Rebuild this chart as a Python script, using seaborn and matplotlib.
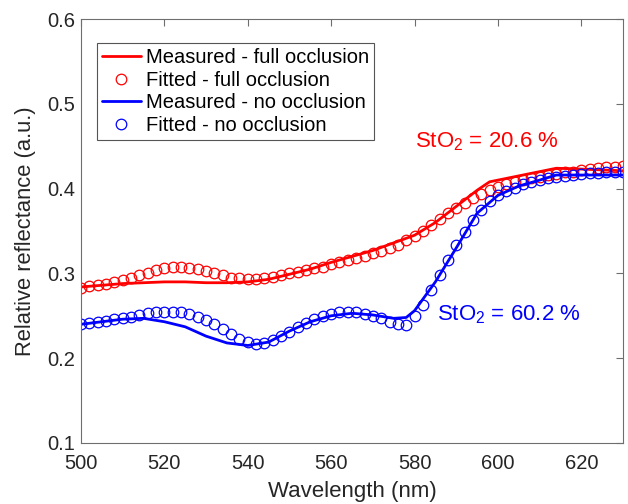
import numpy as np
import pandas as pd
import matplotlib
matplotlib.use("Agg")
import matplotlib.pyplot as plt
import seaborn as sns

# ---- data ----
wl_meas_full = [500, 505, 510, 515, 520, 525, 530, 535, 540, 545, 550, 555, 560, 565,
                570, 575, 580, 585, 590, 595, 598, 605, 610, 614, 620, 625, 630]
meas_full = [0.284, 0.286, 0.288, 0.289, 0.290, 0.290, 0.289, 0.289, 0.290, 0.293, 0.299,
             0.305, 0.313, 0.320, 0.327, 0.336, 0.345, 0.360, 0.379, 0.398, 0.408, 0.415,
             0.420, 0.424, 0.423, 0.422, 0.421]

wl_meas_none = [500, 505, 510, 515, 520, 525, 530, 535, 540, 545, 550, 555, 560, 565,
                570, 575, 578, 580, 585, 590, 595, 600, 605, 610, 614, 620, 625, 630]
meas_none = [0.240, 0.243, 0.246, 0.247, 0.243, 0.237, 0.226, 0.218, 0.215, 0.219, 0.232,
             0.243, 0.250, 0.253, 0.251, 0.247, 0.248, 0.256, 0.290, 0.330, 0.371, 0.392,
             0.403, 0.410, 0.416, 0.416, 0.416, 0.416]

wl_fit = list(range(500, 631, 2))
fit_full = [0.283, 0.285, 0.286, 0.288, 0.290, 0.292, 0.295, 0.298, 0.301, 0.304,
            0.306, 0.307, 0.307, 0.306, 0.305, 0.303, 0.300, 0.298, 0.295, 0.294,
            0.293, 0.293, 0.294, 0.296, 0.298, 0.300, 0.302, 0.304, 0.306, 0.308,
            0.311, 0.313, 0.316, 0.318, 0.321, 0.324, 0.327, 0.330, 0.334, 0.339,
            0.344, 0.350, 0.357, 0.364, 0.371, 0.377, 0.383, 0.389, 0.394, 0.398,
            0.402, 0.405, 0.408, 0.410, 0.412, 0.414, 0.416, 0.417, 0.419, 0.420,
            0.422, 0.423, 0.424, 0.425, 0.426, 0.427]
fit_none = [0.240, 0.242, 0.243, 0.244, 0.246, 0.247, 0.249, 0.251, 0.253, 0.254,
            0.255, 0.255, 0.254, 0.252, 0.249, 0.245, 0.240, 0.234, 0.228, 0.223,
            0.219, 0.217, 0.218, 0.221, 0.226, 0.231, 0.237, 0.242, 0.246, 0.250,
            0.252, 0.254, 0.255, 0.254, 0.252, 0.250, 0.247, 0.243, 0.240, 0.239,
            0.250, 0.263, 0.281, 0.298, 0.316, 0.333, 0.349, 0.363, 0.375, 0.385,
            0.392, 0.397, 0.401, 0.405, 0.408, 0.410, 0.412, 0.414, 0.415, 0.416,
            0.417, 0.418, 0.418, 0.419, 0.419, 0.420]

labels = ["Measured - full occlusion", "Fitted - full occlusion",
          "Measured - no occlusion", "Fitted - no occlusion"]
ann_full = "StO$_2$ = 20.6 %"
ann_none = "StO$_2$ = 60.2 %"

# ---- style ----
sns.set_style("white")
plt.rcParams['font.family'] = ['Liberation Sans', 'DejaVu Sans']
plt.rcParams['mathtext.default'] = 'regular'

fig = plt.figure(figsize=(6.28, 5.04), dpi=100)
ax = fig.add_axes([81/628, 1-443/504, (623-81)/628, (443-19)/504])

RED = (1, 0, 0)
BLUE = (0, 0, 1)
MS = 7.6

sns.lineplot(x=wl_meas_full, y=meas_full, ax=ax, color=RED, lw=2.0,
             label=labels[0], sort=False)
sns.lineplot(x=wl_fit, y=fit_full, ax=ax, color=RED, linestyle='', marker='o',
             markersize=MS, markerfacecolor='none', markeredgecolor=RED,
             markeredgewidth=0.9, label=labels[1], sort=False)
sns.lineplot(x=wl_meas_none, y=meas_none, ax=ax, color=BLUE, lw=2.0,
             label=labels[2], sort=False)
sns.lineplot(x=wl_fit, y=fit_none, ax=ax, color=BLUE, linestyle='', marker='o',
             markersize=MS, markerfacecolor='none', markeredgecolor=BLUE,
             markeredgewidth=0.9, label=labels[3], sort=False)

ax.set_xlim(500, 630)
ax.set_ylim(0.1, 0.6)
ax.set_xticks([500, 520, 540, 560, 580, 600, 620])
ax.set_yticks([0.1, 0.2, 0.3, 0.4, 0.5, 0.6])
ax.set_yticklabels(["0.1", "0.2", "0.3", "0.4", "0.5", "0.6"])

for s in ax.spines.values():
    s.set_visible(True)
    s.set_color('#6e6e6e')
    s.set_linewidth(0.8)
ax.tick_params(direction='in', length=5, width=0.8, color='#6e6e6e',
               top=True, right=True, labelsize=14.5, labelcolor='#262626')
ax.tick_params(axis='x', pad=8)
ax.tick_params(axis='y', pad=4)

ax.set_xlabel("Wavelength (nm)", fontsize=16, color='#262626', labelpad=6)
ax.set_ylabel("Relative reflectance (a.u.)", fontsize=15.8, color='#262626', labelpad=8)

ax.text(580.1, 0.448, ann_full, color=RED, fontsize=16, ha='left', va='baseline')
ax.text(585.4, 0.245, ann_none, color=BLUE, fontsize=16, ha='left', va='baseline')

leg = ax.legend(loc='upper left', bbox_to_anchor=(0.029, 0.943), fontsize=14.5,
                frameon=True, fancybox=False, framealpha=1, edgecolor='#555555',
                handlelength=1.95, handletextpad=0.25, labelspacing=0.18,
                borderpad=0.25, borderaxespad=0)
leg.get_frame().set_linewidth(0.8)
for t in leg.get_texts():
    t.set_color('black')

fig.savefig("out.png", dpi=100)
